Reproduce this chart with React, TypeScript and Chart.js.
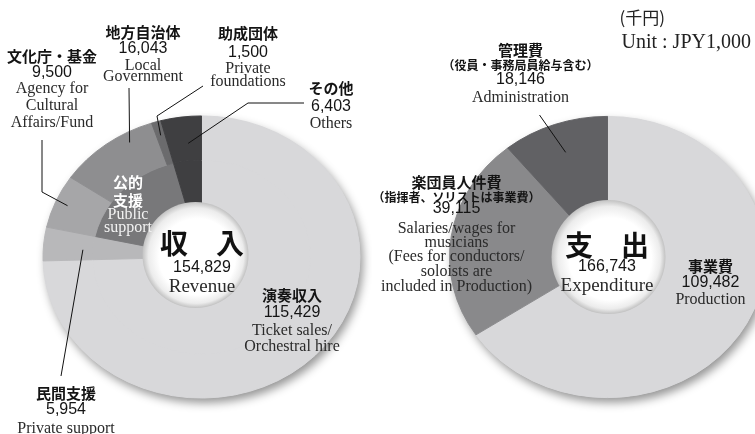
import { useEffect, useRef } from "react";
import { Chart, registerables } from "chart.js";

Chart.register(...registerables);

// ---------------- data ----------------
const revenueCategories = ["演奏収入", "民間支援", "文化庁・基金", "地方自治体", "助成団体", "その他"];
const revenueEnglish = [
  ["Ticket sales/", "Orchestral hire"],
  ["Private support"],
  ["Agency for", "Cultural", "Affairs/Fund"],
  ["Local", "Government"],
  ["Private", "foundations"],
  ["Others"],
];
const revenueValues = [115429, 5954, 9500, 16043, 1500, 6403];
const publicSupportMembers = [2, 3, 4];
const publicSupportTitle = ["公的", "支援"];
const publicSupportEnglish = ["Public", "support"];
const revenueTitle = "収　入";
const revenueTitleEn = "Revenue";

const expenditureCategories = ["事業費", "楽団員人件費", "管理費"];
const expenditureNotes = ["", "（指揮者、ソリストは事業費）", "（役員・事務局員給与含む）"];
const expenditureEnglish = [
  ["Production"],
  ["Salaries/wages for", "musicians", "(Fees for conductors/", "soloists are", "included in Production)"],
  ["Administration"],
];
const expenditureValues = [109482, 39115, 18146];
const expenditureTitle = "支　出";
const expenditureTitleEn = "Expenditure";
const unitLabels = ["(千円)", "Unit : JPY1,000"];

// ---------------- styles ----------------
const revenueColors = ["#d8d8da", "#b8b8ba", "#a6a6a8", "#8e8e90", "#6b6b6d", "#3f3f41"];
const revenueGroupColors = ["#d8d8da", "#b8b8ba", "#78787a", "#3f3f41"];
const expenditureColors = ["#d8d8da", "#89898b", "#616164"];

const SY = 0.89; // vertical squash of the doughnuts
const JP = '"Noto Sans CJK JP", "Noto Sans CJK SC", sans-serif';
const F = {
  jp: `bold 15px ${JP}`,
  note: `bold 12px ${JP}`,
  num: `16px "Liberation Sans", Arial, sans-serif`,
  en: `16px "Liberation Serif", serif`,
  title: `bold 28px ${JP}`,
  total: `16px "Liberation Sans", Arial, sans-serif`,
  totalEn: `19px "Liberation Serif", serif`,
  unitJp: `17px ${JP}`,
  unitEn: `20px "Liberation Serif", serif`,
};
const TXT = "#141414";
const EN = "#2a2a2a";

const fmt = (v: number) => v.toLocaleString("en-US");
const sum = (a: number[]) => a.reduce((s, v) => s + v, 0);

type TextItem = { text: string; font: string; dx: number; dy: number; color?: string; align?: CanvasTextAlign };
type Leader = { points: [number, number][]; index: number; t: number; r: number };

function block(dx: number, dys: number[], lines: { text: string; font: string; color?: string }[]): TextItem[] {
  return lines.map((l, i) => ({ ...l, dx, dy: dys[i] }));
}

function catBlock(jp: string, value: number, en: string[], dx: number, dys: number[], note?: string): TextItem[] {
  const lines: { text: string; font: string; color?: string }[] = [{ text: jp, font: F.jp, color: TXT }];
  if (note) lines.push({ text: note, font: F.note, color: TXT });
  lines.push({ text: fmt(value), font: F.num, color: TXT });
  en.forEach((e) => lines.push({ text: e, font: F.en, color: EN }));
  return block(dx, dys, lines);
}

function makeChart(
  canvas: HTMLCanvasElement,
  labels: string[],
  datasets: any[],
  padding: any,
  cutout: string,
  baseColor: string,
  hole: { dx: number; dy: number; r: number },
  texts: TextItem[],
  leaders: Leader[]
) {
  const plugin = {
    id: "ellipseDoughnut",
    beforeDatasetsDraw(chart: any) {
      const arc: any = chart.getDatasetMeta(0).data[0];
      const { x, y, outerRadius } = arc;
      const ctx: CanvasRenderingContext2D = chart.ctx;
      ctx.save();
      ctx.translate(x, y);
      ctx.scale(1, SY);
      ctx.translate(-x, -y);
      ctx.save();
      ctx.shadowColor = "rgba(0,0,0,0.42)";
      ctx.shadowBlur = 10;
      ctx.shadowOffsetX = 3;
      ctx.shadowOffsetY = 5;
      ctx.fillStyle = baseColor;
      ctx.beginPath();
      ctx.arc(x, y, outerRadius, 0, Math.PI * 2);
      ctx.fill();
      ctx.restore();
    },
    afterDatasetsDraw(chart: any) {
      const ctx: CanvasRenderingContext2D = chart.ctx;
      ctx.restore();
      const arc: any = chart.getDatasetMeta(0).data[0];
      const hx = arc.x + hole.dx;
      const hy = arc.y + hole.dy;
      const hr = hole.r;
      const g = ctx.createRadialGradient(hx + hr * 0.12, hy + hr * 0.12, 0, hx, hy, hr);
      g.addColorStop(0, "#ffffff");
      g.addColorStop(0.72, "#ffffff");
      g.addColorStop(0.9, "#ececec");
      g.addColorStop(1, "#c2c2c2");
      ctx.save();
      ctx.fillStyle = g;
      ctx.beginPath();
      ctx.arc(hx, hy, hr, 0, Math.PI * 2);
      ctx.fill();
      ctx.restore();
    },
    afterDraw(chart: any) {
      const ctx: CanvasRenderingContext2D = chart.ctx;
      const meta = chart.getDatasetMeta(0);
      const arc0: any = meta.data[0];
      const cx = arc0.x;
      const cy = arc0.y;
      const R = arc0.outerRadius;
      ctx.save();
      ctx.strokeStyle = "#111";
      ctx.lineWidth = 1;
      leaders.forEach((l) => {
        const el: any = meta.data[l.index];
        const a = el.startAngle + l.t * (el.endAngle - el.startAngle);
        const rr = R * l.r;
        ctx.beginPath();
        l.points.forEach(([dx, dy], i) => {
          if (i === 0) ctx.moveTo(cx + dx, cy + dy);
          else ctx.lineTo(cx + dx, cy + dy);
        });
        ctx.lineTo(cx + rr * Math.cos(a), cy + rr * Math.sin(a) * SY);
        ctx.stroke();
      });
      ctx.textBaseline = "middle";
      texts.forEach((t) => {
        ctx.font = t.font;
        ctx.fillStyle = t.color || TXT;
        ctx.textAlign = t.align || "center";
        ctx.fillText(t.text, cx + t.dx, cy + t.dy);
      });
      ctx.restore();
    },
  };

  return new Chart(canvas, {
    type: "doughnut",
    data: { labels, datasets },
    options: {
      responsive: false,
      maintainAspectRatio: false,
      animation: false,
      events: [],
      cutout,
      layout: { padding },
      plugins: { legend: { display: false }, tooltip: { enabled: false }, title: { display: false } },
    } as any,
    plugins: [plugin as any],
  });
}

export default function App() {
  const leftRef = useRef<HTMLCanvasElement>(null);
  const rightRef = useRef<HTMLCanvasElement>(null);

  useEffect(() => {
    const revenueTotal = sum(revenueValues);
    const publicTotal = sum(publicSupportMembers.map((i) => revenueValues[i]));
    const groupValues = [revenueValues[0], revenueValues[1], publicTotal, revenueValues[5]];
    const groupLabels = [revenueCategories[0], revenueCategories[1], publicSupportTitle.join(""), revenueCategories[5]];

    const leftTexts: TextItem[] = [
      ...catBlock(revenueCategories[0], revenueValues[0], revenueEnglish[0], 90.5, [38, 56, 74, 90]),
      ...catBlock(revenueCategories[1], revenueValues[1], revenueEnglish[1], -135.5, [136, 153, 172]),
      ...catBlock(revenueCategories[2], revenueValues[2], revenueEnglish[2], -149.5, [-201, -184, -168, -151, -134]),
      ...catBlock(revenueCategories[3], revenueValues[3], revenueEnglish[3], -58.5, [-225, -208, -191, -180]),
      ...catBlock(revenueCategories[4], revenueValues[4], revenueEnglish[4], 46.5, [-224, -204, -188, -175]),
      ...catBlock(revenueCategories[5], revenueValues[5], revenueEnglish[5], 129.5, [-169, -150, -133]),
      ...block(-73.5, [-75, -57, -42, -29], [
        { text: publicSupportTitle[0], font: F.jp, color: "#ffffff" },
        { text: publicSupportTitle[1], font: F.jp, color: "#ffffff" },
        { text: publicSupportEnglish[0], font: F.en, color: "#f2f2f2" },
        { text: publicSupportEnglish[1], font: F.en, color: "#f2f2f2" },
      ]),
      ...block(0.5, [-14, 11, 30], [
        { text: revenueTitle, font: F.title, color: "#111" },
        { text: fmt(revenueTotal), font: F.total, color: TXT },
        { text: revenueTitleEn, font: F.totalEn, color: EN },
      ]),
    ];
    const leftLeaders: Leader[] = [
      { points: [[-159.5, -117], [-159.5, -65]], index: 2, t: 0.5, r: 0.92 },
      { points: [[-72.5, -169]], index: 3, t: 0.71, r: 0.93 },
      { points: [[1.5, -171], [-44.5, -141]], index: 4, t: 0.5, r: 0.9 },
      { points: [[102.5, -154], [46.5, -154]], index: 5, t: 0.6, r: 0.81 },
      { points: [[-140.5, 119]], index: 1, t: 0.4, r: 0.75 },
    ];

    const left = makeChart(
      leftRef.current!,
      revenueCategories,
      [
        {
          data: revenueValues,
          backgroundColor: revenueColors,
          borderColor: revenueColors,
          borderWidth: 1,
          weight: 49.5,
          clip: false,
        },
        {
          data: groupValues,
          labels: groupLabels,
          backgroundColor: revenueGroupColors,
          borderColor: revenueGroupColors,
          borderWidth: 1,
          weight: 64.6,
          clip: false,
        },
      ],
      { left: 42.5, right: 11.5, top: 98, bottom: 18 },
      "28%",
      revenueColors[0],
      { dx: -6, dy: -2, r: 53 },
      leftTexts,
      leftLeaders
    );

    const expenditureTotal = sum(expenditureValues);
    const rightTexts: TextItem[] = [
      ...catBlock(expenditureCategories[0], expenditureValues[0], expenditureEnglish[0], 103, [9, 26, 43]),
      ...catBlock(expenditureCategories[1], expenditureValues[1], expenditureEnglish[1], -151, [-75, -60, -48, -28, -14, 0, 15, 30], expenditureNotes[1]),
      ...catBlock(expenditureCategories[2], expenditureValues[2], expenditureEnglish[2], -87, [-207, -192, -177, -159], expenditureNotes[2]),
      ...block(-0.5, [-12, 10, 29], [
        { text: expenditureTitle, font: F.title, color: "#111" },
        { text: fmt(expenditureTotal), font: F.total, color: TXT },
        { text: expenditureTitleEn, font: F.totalEn, color: EN },
      ]),
      { text: unitLabels[0], font: F.unitJp, dx: 12, dy: -239, align: "left", color: "#222" },
      { text: unitLabels[1], font: F.unitEn, dx: 14, dy: -214, align: "left", color: "#222" },
    ];
    const rightLeaders: Leader[] = [{ points: [[-68, -142]], index: 2, t: 0.5, r: 0.79 }];

    const right = makeChart(
      rightRef.current!,
      expenditureCategories,
      [
        {
          data: expenditureValues,
          backgroundColor: expenditureColors,
          borderColor: expenditureColors,
          borderWidth: 1,
          clip: false,
        },
      ],
      { left: 79, right: 24, top: 98.5, bottom: 18.5 },
      "30%",
      expenditureColors[0],
      { dx: 1, dy: 0, r: 57 },
      rightTexts,
      rightLeaders
    );

    return () => {
      left.destroy();
      right.destroy();
    };
  }, []);

  return (
    <div
      style={{
        position: "absolute",
        left: 0,
        top: 0,
        width: 755,
        height: 434,
        overflow: "hidden",
        background: "#ffffff",
      }}
    >
      <canvas ref={leftRef} width={372} height={434} style={{ position: "absolute", left: 0, top: 0 }} />
      <canvas ref={rightRef} width={420} height={434} style={{ position: "absolute", left: 370, top: 0 }} />
    </div>
  );
}
